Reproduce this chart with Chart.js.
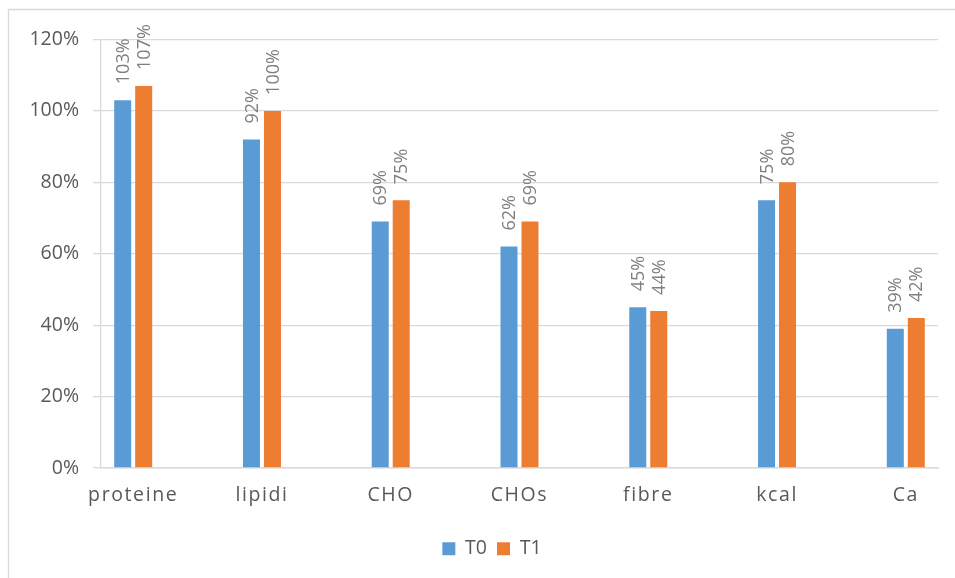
<!DOCTYPE html>
<html>
<head>
<meta charset="utf-8">
<script src="https://cdn.jsdelivr.net/npm/chart.js@4/dist/chart.umd.min.js"></script>
<style>
  html, body { margin: 0; padding: 0; background: #ffffff; }
  #wrap { width: 955px; height: 578px; position: relative; }
</style>
</head>
<body>
<div id="wrap"><canvas id="c"></canvas></div>
<script>
// Nutrient coverage at two time points (percent)
const categories = ['proteine', 'lipidi', 'CHO', 'CHOs', 'fibre', 'kcal', 'Ca'];
const t0Values = [103, 92, 69, 62, 45, 75, 39];
const t1Values = [107, 100, 75, 69, 44, 80, 42];
const seriesNames = ['T0', 'T1'];
const seriesColors = ['#5B9BD5', '#ED7D31'];
const yTicks = [0, 20, 40, 60, 80, 100, 120];

const FONT = "'Open Sans', 'Liberation Sans', sans-serif";
const GRID = '#d9d9d9';

function toPoints(values) {
  return values.map((v, i) => ({ x: i, y: v }));
}

// Frame around the chart, white background, letter-spaced category labels
const framePlugin = {
  id: 'frame',
  afterLayout(chart) {
    // nudge the legend row to the right
    const lg = chart.legend;
    if (lg) { lg.left += 13; lg.right += 13; }
  },
  beforeDraw(chart) {
    const ctx = chart.ctx;
    ctx.save();
    ctx.fillStyle = '#ffffff';
    ctx.fillRect(0, 0, chart.width, chart.height);
    ctx.strokeStyle = GRID;
    ctx.lineWidth = 1.3;
    ctx.beginPath();
    ctx.moveTo(8.5, chart.height);
    ctx.lineTo(8.5, 9.5);
    ctx.lineTo(chart.width, 9.5);
    ctx.stroke();
    ctx.restore();

    const xs = chart.scales.x;
    if (xs && !xs._spaced) {
      const orig = xs.drawLabels;
      xs.drawLabels = function (area) {
        const c = this.ctx;
        c.save();
        c.letterSpacing = '1.6px';
        orig.call(this, area);
        c.restore();
      };
      xs._spaced = true;
    }
  }
};

// Vertical value labels above each bar
const valueLabelPlugin = {
  id: 'valueLabels',
  afterDatasetsDraw(chart) {
    const ctx = chart.ctx;
    ctx.save();
    ctx.font = `18px ${FONT}`;
    ctx.fillStyle = '#7f7f7f';
    ctx.textAlign = 'left';
    ctx.textBaseline = 'middle';
    chart.data.datasets.forEach((ds, di) => {
      const meta = chart.getDatasetMeta(di);
      meta.data.forEach((el, i) => {
        const v = ds.data[i].y;
        ctx.save();
        ctx.translate(el.x + 1, el.y - 16);
        ctx.rotate(-Math.PI / 2);
        ctx.fillText(v + '%', 0, 0);
        ctx.restore();
      });
    });
    ctx.restore();
  }
};

new Chart(document.getElementById('c'), {
  type: 'bar',
  data: {
    datasets: [
      { label: seriesNames[0], data: toPoints(t0Values), backgroundColor: seriesColors[0] },
      { label: seriesNames[1], data: toPoints(t1Values), backgroundColor: seriesColors[1] }
    ]
  },
  options: {
    responsive: true,
    maintainAspectRatio: false,
    animation: false,
    devicePixelRatio: 1,
    categoryPercentage: 0.326,
    barPercentage: 0.81,
    layout: { padding: { left: 20, right: 17, top: 39.5, bottom: 9.5 } },
    scales: {
      x: {
        type: 'linear',
        min: -0.25,
        max: 6.25,
        offset: false,
        afterBuildTicks(scale) {
          scale.ticks = categories.map((_, i) => ({ value: i }));
        },
        afterFit(scale) { scale.height = 61; },
        grid: { display: false, drawTicks: false, offset: false },
        border: { display: true, color: GRID, width: 1.6 },
        ticks: {
          autoSkip: false,
          maxRotation: 0,
          padding: 16,
          color: '#595959',
          font: { family: FONT, size: 19.5 },
          callback: (v) => categories[v]
        }
      },
      y: {
        min: 0,
        max: 120,
        afterBuildTicks(scale) {
          scale.ticks = yTicks.map(v => ({ value: v }));
        },
        afterFit(scale) { scale.width = 81; },
        grid: { color: GRID, lineWidth: 1.3, tickLength: 8, drawTicks: true },
        border: { display: true, color: GRID, width: 1.3 },
        ticks: {
          padding: 14,
          color: '#595959',
          font: { family: FONT, size: 19.5 },
          callback: (v) => v + '%'
        }
      }
    },
    plugins: {
      legend: {
        position: 'bottom',
        labels: {
          boxWidth: 13,
          boxHeight: 13,
          padding: 10,
          color: '#595959',
          font: { family: FONT, size: 19.5 }
        }
      },
      tooltip: { enabled: false }
    }
  },
  plugins: [framePlugin, valueLabelPlugin]
});
</script>
</body>
</html>
